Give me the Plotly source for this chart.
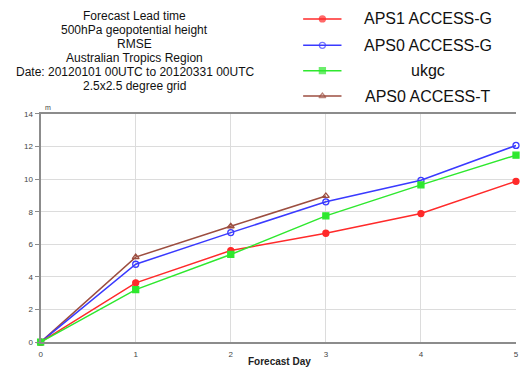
import plotly.graph_objects as go

days = [0, 1, 2, 3, 4, 5]
aps1_g = [0, 3.64, 5.62, 6.68, 7.89, 9.87]
aps0_g = [0, 4.78, 6.72, 8.61, 9.93, 12.07]
ukgc = [0, 3.22, 5.38, 7.75, 9.65, 11.47]
aps0_t_days = [0, 1, 2, 3]
aps0_t = [0, 5.22, 7.11, 8.97]

names = ["APS1 ACCESS-G", "APS0 ACCESS-G", "ukgc", "APS0 ACCESS-T"]
colors = ["#ff2a2a", "#3a3aff", "#2ee82e", "#9c4e40"]
symbols = ["circle", "circle-open", "square", "triangle-up-open"]
y_ticks = [0, 2, 4, 6, 8, 10, 12, 14]
x_ticks = [0, 1, 2, 3, 4, 5]
title_lines = ["Forecast Lead time", "500hPa geopotential height", "RMSE",
               "Australian Tropics Region", "Date: 20120101 00UTC to 20120331 00UTC",
               "2.5x2.5 degree grid"]

W, H = 520, 373

def fx(px):
    return px / W

def fy(py):
    return 1 - py / H

fig = go.Figure()
series = [(days, aps1_g), (days, aps0_g), (days, ukgc), (aps0_t_days, aps0_t)]
order = [3, 1, 0, 2]
for i in order:
    xs, ys = series[i]
    fig.add_trace(go.Scatter(
        x=xs, y=ys, mode="lines+markers", name=names[i],
        line=dict(color=colors[i], width=1.5),
        marker=dict(symbol=symbols[i], size=6, color=colors[i],
                    line=dict(color=colors[i], width=1.3)),
        cliponaxis=False, showlegend=False))

# legend samples on an overlay axis
leg_y = [15.3, 42.3, 68.3, 94.3]
for i in range(4):
    fig.add_trace(go.Scatter(
        x=[0, 0.5, 1], y=[leg_y[i]] * 3, xaxis="x2", yaxis="y2",
        mode="lines+markers", line=dict(color=colors[i], width=1.5),
        marker=dict(symbol=symbols[i], size=[0, 6, 0], color=colors[i],
                    line=dict(color=colors[i], width=1.3)),
        showlegend=False, cliponaxis=False, hoverinfo="skip"))

annotations = []
for i in range(4):
    annotations.append(dict(text=names[i], x=fx(430), y=fy(leg_y[i]), xref="paper", yref="paper",
                            showarrow=False, xanchor="center", yanchor="middle",
                            font=dict(size=16, color="#111")))
for k, line in enumerate(title_lines):
    annotations.append(dict(text=line, x=fx(134), y=fy(12 + 14.5 * k), xref="paper", yref="paper",
                            showarrow=False, xanchor="center", yanchor="middle",
                            font=dict(size=12, color="#111")))
annotations.append(dict(text="m", x=fx(41), y=fy(106), xref="paper", yref="paper", showarrow=False,
                        xanchor="left", yanchor="middle", font=dict(size=7, color="#444")))
annotations.append(dict(text="<b>Forecast Day</b>", x=fx(280), y=fy(366), xref="paper", yref="paper",
                        showarrow=False, xanchor="center", yanchor="middle",
                        font=dict(size=10, color="#222")))

fig.update_layout(
    width=W, height=H,
    margin=dict(l=0, r=0, t=0, b=0),
    paper_bgcolor="white", plot_bgcolor="white",
    font=dict(family="Liberation Sans, Arial, sans-serif", color="#333"),
    xaxis=dict(domain=[fx(39), fx(519)], range=[0, 5], tickvals=x_ticks, showgrid=True,
               gridcolor="#dcdcdc", gridwidth=1,
               showline=True, linecolor="#8c8c8c", linewidth=2, mirror=True,
               ticks="outside", ticklen=3, tickcolor="rgba(0,0,0,0)",
               ticklabeloverflow="allow",
               tickfont=dict(size=8, color="#444"), zeroline=False, anchor="y"),
    yaxis=dict(domain=[fy(346.5), fy(112.7)], range=[0, 14], tickvals=y_ticks, showgrid=True,
               gridcolor="#dcdcdc", gridwidth=1,
               showline=True, linecolor="#8c8c8c", linewidth=2,
               ticks="outside", ticklen=4, tickcolor="#8c8c8c",
               tickfont=dict(size=8, color="#444"), zeroline=False, anchor="x"),
    xaxis2=dict(domain=[fx(304), fx(343)], range=[0, 1], visible=False, anchor="y2"),
    yaxis2=dict(domain=[fy(110), fy(0)], range=[110, 0], visible=False, anchor="x2"),
    annotations=annotations,
    showlegend=False,
)
fig.write_html("out.html")
